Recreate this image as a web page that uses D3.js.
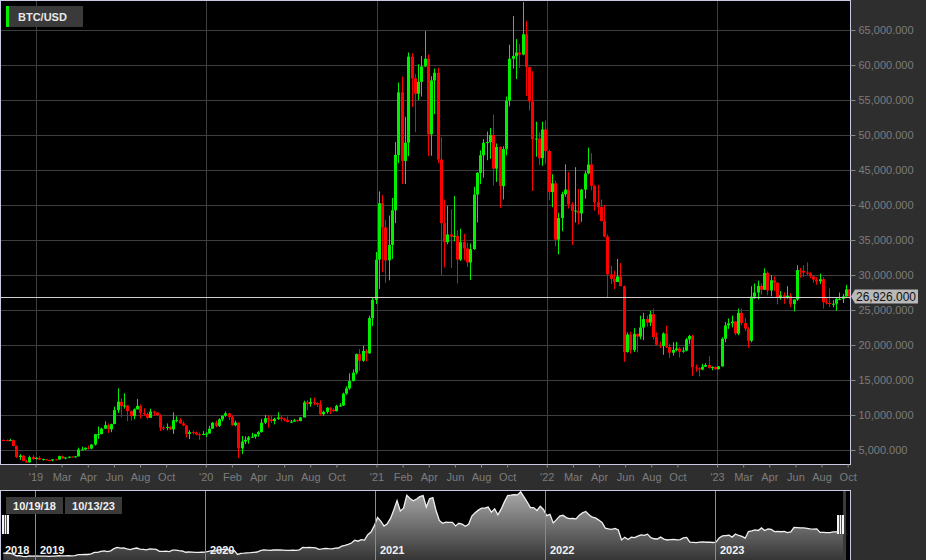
<!DOCTYPE html>
<html>
<head>
<meta charset="utf-8">
<script src="https://cdn.jsdelivr.net/npm/d3@7"></script>
<style>
html, body { margin: 0; padding: 0; background: #2e2e2e; }
svg { display: block; font-family: "Liberation Sans", Arial, sans-serif; }
</style>
</head>
<body>
<div id="chart"></div>
<script>
// weekly candles, sunday to saturday
var weeks = d3.timeSunday.range(new Date(2018, 9, 21), new Date(2023, 9, 9));

// prices in thousands of USD
var open = [
  6.42,6.40,6.38,6.41,5.58,4.00,4.20,3.42,3.23,3.98,3.70,
  3.85,3.63,3.70,3.58,3.51,3.66,3.63,4.12,3.82,3.94,4.05,3.99,4.10,5.06,5.07,5.32,5.20,5.78,7.25,7.27,8.05,8.55,7.95,8.70,10.70,11.90,11.30,11.35,10.55,9.85,10.80,11.30,10.30,10.13,9.60,10.50,10.35,9.98,8.20,8.15,8.30,7.95,9.25,9.30,8.80,8.50,7.30,7.55,7.50,7.25,7.15,7.30,
  7.35,8.05,8.90,8.45,9.38,9.90,10.25,9.70,8.55,8.90,5.25,6.20,6.45,6.80,6.90,7.25,7.55,8.90,9.55,9.35,9.15,9.45,9.65,9.45,9.30,9.00,9.05,9.25,9.15,9.65,11.80,11.60,11.85,11.70,11.50,10.10,10.45,11.05,10.75,10.55,11.30,11.35,13.05,13.80,14.85,16.05,18.70,17.75,19.15,18.80,23.85,26.45,
  32.20,40.25,36.80,32.10,34.30,39.25,47.15,56.10,46.30,48.90,61.20,58.10,55.90,57.60,59.80,60.90,50.10,57.80,58.90,46.50,37.40,34.70,35.80,35.50,35.60,32.20,34.70,33.80,31.80,33.70,41.50,44.60,47.10,48.90,49.00,50.00,45.20,48.30,42.70,48.00,54.90,60.90,61.30,61.80,61.50,64.40,59.70,54.80,49.40,49.50,46.70,50.80,
  47.70,41.85,43.10,35.05,38.15,41.55,42.20,40.10,39.15,39.20,38.80,42.20,44.50,45.80,42.75,40.40,39.70,37.70,35.50,30.10,29.45,29.00,29.80,28.40,19.00,21.50,19.30,21.60,21.20,22.50,23.70,23.20,24.40,21.15,20.05,19.85,21.65,19.70,18.90,19.30,19.50,19.05,19.20,20.80,21.30,16.80,16.65,16.50,16.90,17.15,16.75,16.85,
  16.55,16.95,20.90,22.80,23.10,23.35,21.65,24.60,23.15,22.35,20.60,26.90,27.50,28.45,27.90,30.30,27.80,29.25,28.90,26.80,27.10,26.70,27.05,25.85,26.50,30.70,30.60,30.35,30.25,29.80,29.35,29.10,29.40,26.10,26.00,25.85,25.90,26.55,26.60,26.95,27.95
];
var high = [
  6.52,6.50,6.60,6.49,5.63,4.40,4.30,3.60,4.20,4.25,3.96,
  4.12,3.76,3.72,3.60,3.69,3.70,4.19,4.21,3.95,4.07,4.09,4.12,5.34,5.47,5.35,5.62,5.84,7.30,8.36,8.20,9.10,8.80,8.75,11.20,13.80,12.40,13.10,11.45,10.65,10.95,12.30,11.50,10.95,10.40,10.90,10.60,10.40,10.10,8.50,8.80,8.40,10.40,9.80,9.55,9.10,8.55,7.85,7.80,7.65,7.50,7.70,7.55,
  8.45,9.00,9.20,9.55,9.95,10.50,10.30,9.95,9.20,8.95,7.00,6.95,7.00,7.45,7.30,7.70,9.45,10.00,9.95,9.85,9.60,10.40,9.95,9.60,9.80,9.30,9.45,9.35,9.70,12.05,12.10,12.45,12.50,11.80,12.10,10.60,11.10,11.10,10.95,11.45,11.70,13.20,14.10,15.95,16.50,18.80,19.45,19.90,19.40,24.20,26.80,33.30,
  41.95,41.40,37.85,38.50,41.00,49.00,57.50,58.35,52.60,61.80,61.70,58.70,60.10,61.30,64.85,61.50,58.40,59.50,59.60,49.70,40.80,39.90,39.40,41.30,36.40,36.60,35.90,34.60,34.50,42.60,44.70,47.80,49.40,50.50,51.00,52.90,48.80,48.40,48.40,55.50,62.90,67.00,63.70,63.00,69.00,66.30,59.80,59.10,51.90,50.40,51.90,52.10,
  47.90,44.40,43.50,38.90,41.90,45.80,44.70,40.40,45.40,42.30,42.30,44.90,48.20,47.40,42.90,42.90,40.80,40.00,35.80,31.30,30.60,32.30,31.70,28.50,21.80,21.90,22.40,21.60,24.20,24.60,24.20,24.90,25.20,21.80,20.50,21.80,22.80,20.20,20.40,20.45,19.70,19.70,21.00,21.45,21.45,17.20,16.80,17.30,17.40,18.40,16.95,16.95,
  17.00,21.10,23.30,23.80,24.20,23.40,25.20,25.20,23.90,22.60,28.40,28.80,29.20,28.80,30.95,30.50,30.00,29.80,29.00,27.70,27.50,28.40,27.40,26.50,31.40,31.00,31.40,31.80,30.40,30.00,29.70,30.20,29.70,26.80,28.10,26.40,26.80,27.50,27.30,28.60,28.00
];
var low = [
  6.37,6.28,6.36,5.50,3.85,3.58,3.36,3.20,3.22,3.56,3.65,
  3.56,3.50,3.49,3.38,3.37,3.56,3.62,3.73,3.67,3.83,3.96,3.89,4.08,4.95,5.03,5.07,5.10,5.65,6.60,7.25,8.00,7.45,7.55,8.70,10.30,9.70,10.90,9.10,9.20,9.40,10.80,9.50,9.90,9.40,9.60,9.90,9.90,7.70,7.80,7.80,7.90,7.30,8.95,8.75,8.40,6.80,6.55,7.20,7.10,6.45,7.10,6.85,
  7.35,8.00,8.25,8.30,9.10,9.75,9.30,8.45,8.40,3.85,4.45,5.85,5.90,6.75,6.60,6.90,7.50,8.70,8.20,8.85,8.65,9.30,9.10,9.10,8.95,8.90,9.05,9.05,9.10,9.65,10.70,11.20,11.40,11.15,9.90,9.90,10.20,10.15,10.40,10.50,11.20,11.30,12.90,13.60,14.80,15.80,16.30,17.60,17.65,18.75,22.70,25.85,
  28.00,30.40,28.85,29.25,32.30,37.40,46.00,43.00,43.00,47.00,54.00,50.40,55.00,55.50,59.70,47.00,47.05,53.00,46.00,30.00,31.10,34.40,31.00,34.80,28.80,32.00,32.10,31.15,29.30,33.60,37.50,43.00,43.90,46.40,46.60,42.80,43.30,39.60,40.80,47.10,54.10,59.50,58.00,59.60,61.40,55.60,53.50,42.00,46.90,45.70,45.60,45.90,
  40.70,39.70,34.10,32.95,36.25,41.20,39.50,34.30,37.50,37.20,37.60,40.90,44.40,42.10,39.20,38.60,37.70,35.40,26.70,28.70,28.00,29.00,28.40,17.60,18.90,18.80,19.00,18.95,20.80,20.70,22.60,22.70,20.80,20.00,19.55,18.60,19.60,18.15,18.50,19.10,18.20,18.90,19.10,20.10,15.60,16.20,15.50,16.40,16.90,16.60,16.40,16.45,
  16.50,16.90,20.40,22.30,22.50,21.40,21.40,22.80,22.00,19.60,20.40,26.60,26.50,27.20,27.90,27.10,26.95,27.70,25.80,26.50,25.90,26.60,25.40,24.80,26.30,29.60,29.70,29.95,29.55,28.90,28.60,28.70,25.20,25.80,25.40,25.40,24.90,26.40,26.00,26.90,26.55
];
var close = [
  6.40,6.38,6.41,5.58,4.00,4.20,3.42,3.23,3.98,3.70,3.85,
  3.63,3.70,3.58,3.51,3.66,3.63,4.12,3.82,3.94,4.05,3.99,4.10,5.06,5.07,5.32,5.20,5.78,7.25,7.27,8.05,8.55,7.95,8.70,10.70,11.90,11.30,11.35,10.55,9.85,10.80,11.30,10.30,10.13,9.60,10.50,10.35,9.98,8.20,8.15,8.30,7.95,9.25,9.30,8.80,8.50,7.30,7.55,7.50,7.25,7.15,7.30,7.35,
  8.05,8.90,8.45,9.38,9.90,10.25,9.70,8.55,8.90,5.25,6.20,6.45,6.80,6.90,7.25,7.55,8.90,9.55,9.35,9.15,9.45,9.65,9.45,9.30,9.00,9.05,9.25,9.15,9.65,11.80,11.60,11.85,11.70,11.50,10.10,10.45,11.05,10.75,10.55,11.30,11.35,13.05,13.80,14.85,16.05,18.70,17.75,19.15,18.80,23.85,26.45,32.20,
  40.25,36.80,32.10,34.30,39.25,47.15,56.10,46.30,48.90,61.20,58.10,55.90,57.60,59.80,60.90,50.10,57.80,58.90,46.50,37.40,34.70,35.80,35.50,35.60,32.20,34.70,33.80,31.80,33.70,41.50,44.60,47.10,48.90,49.00,50.00,45.20,48.30,42.70,48.00,54.90,60.90,61.30,61.80,61.50,64.40,59.70,54.80,49.40,49.50,46.70,50.80,47.70,
  41.85,43.10,35.05,38.15,41.55,42.20,40.10,39.15,39.20,38.80,42.20,44.50,45.80,42.75,40.40,39.70,37.70,35.50,30.10,29.45,29.00,29.80,28.40,19.00,21.50,19.30,21.60,21.20,22.50,23.70,23.20,24.40,21.15,20.05,19.85,21.65,19.70,18.90,19.30,19.50,19.05,19.20,20.80,21.30,16.80,16.65,16.50,16.90,17.15,16.75,16.85,16.55,
  16.95,20.90,22.80,23.10,23.35,21.65,24.60,23.15,22.35,20.60,26.90,27.50,28.45,27.90,30.30,27.80,29.25,28.90,26.80,27.10,26.70,27.05,25.85,26.50,30.70,30.60,30.35,30.25,29.80,29.35,29.10,29.40,26.10,26.00,25.85,25.90,26.55,26.60,26.95,27.95,26.926
];

var yTicks = [5,10,15,20,25,30,35,40,45,50,55,60,65];
var tickDates = ["2019-01-01","2019-02-26","2019-04-23","2019-06-18","2019-08-13","2019-10-08",
  "2020-01-01","2020-02-26","2020-04-22","2020-06-17","2020-08-12","2020-10-07",
  "2021-01-01","2021-02-26","2021-04-23","2021-06-18","2021-08-13","2021-10-08",
  "2022-01-01","2022-02-26","2022-04-23","2022-06-18","2022-08-13","2022-10-08",
  "2023-01-01","2023-02-26","2023-04-23","2023-06-18","2023-08-13","2023-10-08"];
var tickLabels = ["'19","Mar","Apr","Jun","Aug","Oct",
  "'20","Feb","Apr","Jun","Aug","Oct",
  "'21","Feb","Apr","Jun","Aug","Oct",
  "'22","Mar","Apr","Jun","Aug","Oct",
  "'23","Mar","Apr","Jun","Aug","Oct"];
var yearStarts = ["2019-01-01","2020-01-01","2021-01-01","2022-01-01","2023-01-01"];
var navYears = ["2018","2019","2020","2021","2022","2023"];
var rangeLabels = ["10/19/18","10/13/23"];
var rangeDates = ["2018-10-19","2023-10-13"];
var symbol = "BTC/USD";
var lastPrice = 26.926;

if (open.length !== weeks.length || high.length !== weeks.length || low.length !== weeks.length || close.length !== weeks.length)
  throw new Error("length mismatch " + weeks.length + " " + open.length + " " + high.length + " " + low.length + " " + close.length);

var parse = d3.timeParse("%Y-%m-%d");
var width = 926, height = 560;
var plot = {left: 1, top: 1, right: 850, bottom: 464};
var nav = {top: 490, bottom: 560, right: 847};

var dados = weeks.map(function(d, i){
  return {date: d, o: open[i], h: high[i], l: low[i], c: close[i]};
});
function mid(d){ return d3.timeDay.offset(d, 3); }

var start = parse(rangeDates[0]), end = parse(rangeDates[1]);
var x = d3.scaleTime().domain([start, end]).range([plot.left, plot.right]);
var y = d3.scaleLinear().domain([3, 69.15]).range([plot.bottom, plot.top]);
var xn = d3.scaleTime().domain([start, end]).range([plot.left, nav.right]);
var yn = d3.scaleLinear().domain([0, 68]).range([nav.bottom, nav.top - 2]);

var svg = d3.select('#chart').append('svg').attr('width', width).attr('height', height);
svg.append('rect').attr('width', width).attr('height', height).attr('fill', '#2e2e2e');

var defs = svg.append('defs');
defs.append('clipPath').attr('id', 'clip').append('rect')
  .attr('x', plot.left).attr('y', plot.top)
  .attr('width', plot.right - plot.left).attr('height', plot.bottom - plot.top);
var grad = defs.append('linearGradient').attr('id', 'navfill')
  .attr('x1', 0).attr('y1', 0).attr('x2', 0).attr('y2', 1);
grad.append('stop').attr('offset', '0%').attr('stop-color', '#a8a8a8');
grad.append('stop').attr('offset', '100%').attr('stop-color', '#353535');

// plot background
svg.append('rect')
  .attr('x', plot.left - 0.5).attr('y', plot.top - 0.5)
  .attr('width', plot.right - plot.left + 1).attr('height', plot.bottom - plot.top + 1)
  .attr('fill', '#000');

// grid
var grid = svg.append('g').attr('shape-rendering', 'crispEdges');
grid.selectAll('line.h').data(yTicks).enter().append('line')
  .attr('x1', plot.left).attr('x2', plot.right)
  .attr('y1', function(d){ return Math.round(y(d)) + 0.5; })
  .attr('y2', function(d){ return Math.round(y(d)) + 0.5; })
  .attr('stroke', '#3e3e3e');
grid.selectAll('line.v').data(yearStarts).enter().append('line')
  .attr('y1', plot.top).attr('y2', plot.bottom)
  .attr('x1', function(d){ return Math.round(x(parse(d))) + 0.5; })
  .attr('x2', function(d){ return Math.round(x(parse(d))) + 0.5; })
  .attr('stroke', '#3e3e3e');

// candles
var plotArea = svg.append('g').attr('clip-path', 'url(#clip)');
function col(d){ return d.c >= d.o ? '#00f000' : '#ff0000'; }
plotArea.selectAll('line.wick').data(dados).enter().append('line')
  .attr('x1', function(d){ return Math.round(x(mid(d.date))) + 0.5; })
  .attr('x2', function(d){ return Math.round(x(mid(d.date))) + 0.5; })
  .attr('y1', function(d){ return y(d.h); })
  .attr('y2', function(d){ return y(d.l); })
  .attr('stroke', col).attr('stroke-width', 1);
plotArea.selectAll('rect.body').data(dados).enter().append('rect')
  .attr('x', function(d){ return Math.round(x(mid(d.date))) - 1; })
  .attr('width', 3)
  .attr('y', function(d){ return y(Math.max(d.o, d.c)); })
  .attr('height', function(d){ return Math.max(1, Math.abs(y(d.o) - y(d.c))); })
  .attr('fill', col);

// last price line
svg.append('line')
  .attr('x1', plot.left).attr('x2', plot.right)
  .attr('y1', Math.round(y(lastPrice)) + 0.5).attr('y2', Math.round(y(lastPrice)) + 0.5)
  .attr('stroke', '#cfcfcf').attr('shape-rendering', 'crispEdges');

// plot border
svg.append('rect')
  .attr('x', plot.left - 0.5).attr('y', plot.top - 0.5)
  .attr('width', plot.right - plot.left + 1).attr('height', plot.bottom - plot.top + 1)
  .attr('fill', 'none').attr('stroke', '#c8cae2').attr('shape-rendering', 'crispEdges');

// right axis
var yAxis = svg.append('g')
  .attr('transform', 'translate(' + (plot.right + 0.5) + ',0)')
  .call(d3.axisRight(y).tickValues(yTicks).tickSize(5).tickPadding(3)
    .tickFormat(function(v){ return d3.format(",.3f")(v * 1000); }));
yAxis.select('.domain').remove();
yAxis.selectAll('line').attr('stroke', '#8a8a8a');
yAxis.selectAll('text').attr('fill', '#7c7c7c').style('font-size', '11px');

// bottom axis
var xAxis = svg.append('g')
  .attr('transform', 'translate(0,' + (plot.bottom + 0.5) + ')')
  .call(d3.axisBottom(x).tickValues(tickDates.map(parse)).tickSize(3).tickPadding(6)
    .tickFormat(function(d, i){ return tickLabels[i]; }));
xAxis.select('.domain').remove();
xAxis.selectAll('line').attr('stroke', '#8a8a8a');
xAxis.selectAll('text').attr('fill', '#7c7c7c').style('font-size', '11px');

// price tag
var ty = y(lastPrice);
svg.append('path')
  .attr('d', 'M' + (plot.right + 1) + ',' + ty + 'L' + (plot.right + 5) + ',' + (ty - 7) +
    'L918,' + (ty - 7) + 'L918,' + (ty + 7) + 'L' + (plot.right + 5) + ',' + (ty + 7) + 'Z')
  .attr('fill', '#b9b9b9');
svg.append('text')
  .attr('x', 886).attr('y', ty + 4)
  .attr('text-anchor', 'middle').attr('fill', '#111')
  .style('font-size', '12px')
  .text(d3.format(",.3f")(lastPrice * 1000));

// legend
svg.append('rect').attr('x', 6).attr('y', 6).attr('width', 77).attr('height', 21).attr('fill', '#3a3a3a');
svg.append('rect').attr('x', 6).attr('y', 6).attr('width', 3).attr('height', 21).attr('fill', '#00f000');
svg.append('text').attr('x', 18).attr('y', 21)
  .attr('fill', '#e8e8e8').style('font-size', '11px').style('font-weight', 'bold')
  .text(symbol);

// navigator
var navG = svg.append('g');
navG.append('rect')
  .attr('x', plot.left - 0.5).attr('y', nav.top + 0.5)
  .attr('width', plot.right - plot.left + 1).attr('height', nav.bottom - nav.top + 5)
  .attr('fill', '#000');
var area = d3.area()
  .x(function(d){ return xn(mid(d.date)); })
  .y0(nav.bottom)
  .y1(function(d){ return yn(d.c); });
var line = d3.line()
  .x(function(d){ return xn(mid(d.date)); })
  .y(function(d){ return yn(d.c); });
navG.append('path').datum(dados).attr('d', area).attr('fill', 'url(#navfill)');
navG.append('path').datum(dados).attr('d', line)
  .attr('fill', 'none').attr('stroke', '#f0f0f0').attr('stroke-width', 1.3);

navG.selectAll('line.yr').data(yearStarts).enter().append('line')
  .attr('x1', function(d){ return Math.round(xn(parse(d))) + 0.5; })
  .attr('x2', function(d){ return Math.round(xn(parse(d))) + 0.5; })
  .attr('y1', nav.top).attr('y2', nav.bottom)
  .attr('stroke', '#8c8c8c').attr('shape-rendering', 'crispEdges');
navG.selectAll('text.yr').data(navYears).enter().append('text')
  .attr('x', function(d, i){ return i === 0 ? 5 : Math.round(xn(parse(yearStarts[i - 1]))) + 5; })
  .attr('y', 554)
  .attr('fill', '#f2f2f2').style('font-size', '11px').style('font-weight', 'bold')
  .text(function(d){ return d; });

navG.append('rect')
  .attr('x', plot.left - 0.5).attr('y', nav.top + 0.5)
  .attr('width', plot.right - plot.left + 1).attr('height', nav.bottom - nav.top + 5)
  .attr('fill', 'none').attr('stroke', '#c8cae2').attr('shape-rendering', 'crispEdges');
navG.append('line')
  .attr('x1', nav.right - 2.5).attr('x2', nav.right - 2.5)
  .attr('y1', nav.top + 1).attr('y2', nav.bottom)
  .attr('stroke', '#3a3a3a').attr('stroke-width', 3);

// range handles
function handle(cx){
  var g = navG.append('g').attr('shape-rendering', 'crispEdges');
  g.append('rect').attr('x', cx - 3).attr('y', 515).attr('width', 7).attr('height', 19).attr('fill', '#f4f4f4');
  g.append('line').attr('x1', cx - 0.5).attr('x2', cx - 0.5).attr('y1', 515).attr('y2', 534).attr('stroke', '#555');
  g.append('line').attr('x1', cx + 1.5).attr('x2', cx + 1.5).attr('y1', 515).attr('y2', 534).attr('stroke', '#555');
}
handle(Math.round(xn(start)) + 4);
handle(Math.round(xn(end)) - 7);

// range date boxes
var boxes = navG.selectAll('g.rng').data(rangeLabels).enter().append('g');
boxes.append('rect')
  .attr('x', function(d, i){ return 6 + i * 59; }).attr('y', 497)
  .attr('width', 57).attr('height', 17).attr('fill', '#3a3a3a');
boxes.append('text')
  .attr('x', function(d, i){ return 34.5 + i * 59; }).attr('y', 510)
  .attr('text-anchor', 'middle')
  .attr('fill', '#f0f0f0').style('font-size', '11px').style('font-weight', 'bold')
  .text(function(d){ return d; });
</script>
</body>
</html>
